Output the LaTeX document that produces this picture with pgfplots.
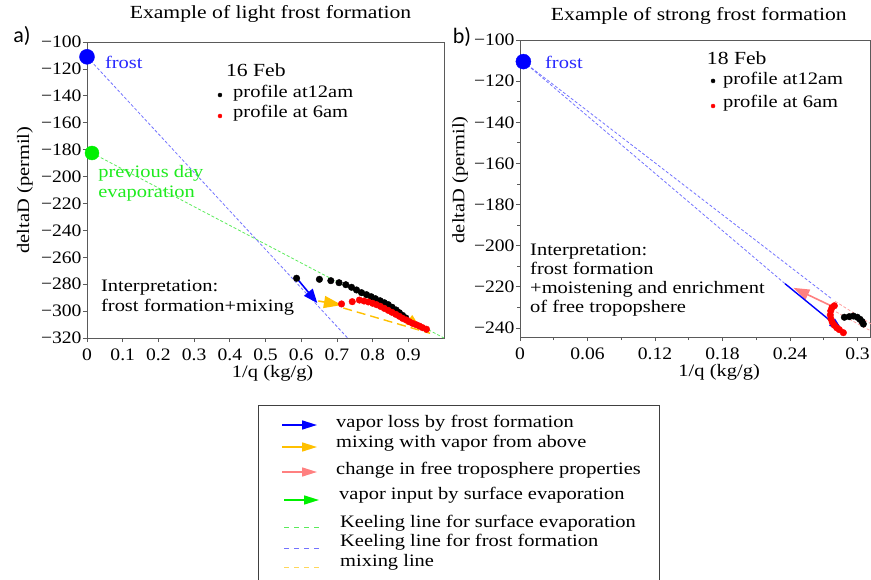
\documentclass[border=0pt]{standalone}
\usepackage{fontspec}
\setmainfont{Liberation Serif}[FakeStretch=1.17]
\newfontfamily\carlito{Carlito}
\newfontfamily\tickfont{Liberation Serif}[FakeStretch=1.12]
\usepackage{pgfplots}
\pgfplotsset{compat=1.18}
\usetikzlibrary{arrows.meta}
\newcommand{\tl}[1]{\mbox{\tickfont #1}}
\definecolor{frostblue}{RGB}{0,0,255}
\definecolor{txtblue}{RGB}{40,40,255}
\definecolor{dashblue}{RGB}{115,115,255}
\definecolor{evgreen}{RGB}{0,240,0}
\definecolor{txtgreen}{RGB}{30,235,30}
\definecolor{dashgreen}{RGB}{90,235,90}
\definecolor{mixyellow}{RGB}{255,192,0}
\definecolor{legyellow}{RGB}{255,215,90}
\definecolor{pinkar}{RGB}{255,128,128}
\definecolor{pinkdash}{RGB}{255,160,160}
\definecolor{axgray}{RGB}{90,90,90}
\pgfplotsset{
  myaxis/.style={
    scale only axis, anchor=south west,
    axis line style={axgray, line width=0.9pt},
    tick style={axgray, line width=0.8pt},
    tick align=outside, major tick length=4pt, minor tick length=3pt,
    xtick pos=bottom, ytick pos=left,
    tick label style={font=\rmfamily\fontsize{17.5}{20}\selectfont},
    xticklabel style={yshift=-3pt},
    yticklabel style={xshift=2pt},
    label style={font=\rmfamily\fontsize{17.5}{20}\selectfont},
    clip=false,
  }
}
\begin{document}
\begin{tikzpicture}[font=\rmfamily\fontsize{17.5}{20}\selectfont]
\useasboundingbox (0,0) rectangle (871pt,-580pt);

% ---------------- panel a ----------------
\begin{axis}[myaxis, at={(87pt,-338pt)}, width=357pt, height=296pt,
  xmin=0, xmax=1, ymin=-320, ymax=-100,
  xtick={0,0.1,0.2,0.3,0.4,0.5,0.6,0.7,0.8,0.9},
  xticklabels={\tl{0},\tl{0.1},\tl{0.2},\tl{0.3},\tl{0.4},\tl{0.5},\tl{0.6},\tl{0.7},\tl{0.8},\tl{0.9}},
  ytick={-320,-300,-280,-260,-240,-220,-200,-180,-160,-140,-120,-100},
  yticklabels={\tl{−320},\tl{−300},\tl{−280},\tl{−260},\tl{−240},\tl{−220},\tl{−200},\tl{−180},\tl{−160},\tl{−140},\tl{−120},\tl{−100}},
  xlabel={1/q (kg/g)}, ylabel={deltaD (permil)},
  xlabel style={at={(axis description cs:0.52,-0.118)}, anchor=center},
  ylabel style={at={(axis description cs:-0.174,0.5)}, anchor=center, rotate=0},
  title={Example of light frost formation},
  title style={at={(axis description cs:0.514,1.074)}, anchor=center, font=\rmfamily\fontsize{18.5}{22}\selectfont},
]
% Keeling lines and mixing line
\addplot[dashgreen, densely dashed, line width=0.8pt] coordinates {(0.014,-182.5) (1.0,-320)};
\addplot[dashblue, densely dashed, line width=0.8pt] coordinates {(0,-111) (0.73,-320)};
\addplot[mixyellow, dash pattern=on 9pt off 5pt, line width=1.4pt] coordinates {(0.718,-297.7) (0.961,-316.5)};
% profiles
\addplot[only marks, mark=*, mark size=3.3pt, black] coordinates {
(0.587,-275.6) (0.651,-276.4) (0.683,-277.4) (0.706,-278.9) (0.725,-280.4)
(0.741,-282.3) (0.755,-284.3) (0.769,-286.3) (0.783,-287.8) (0.796,-289.3)
(0.808,-290.8) (0.821,-292.3) (0.833,-293.8) (0.844,-295.2) (0.855,-297.2)
(0.866,-299.2) (0.875,-301.2) (0.884,-303.2) (0.893,-305.1)};
\addplot[only marks, mark=*, mark size=3.3pt, red] coordinates {
(0.713,-294.7) (0.743,-293.0) (0.763,-291.8) (0.776,-292.5) (0.788,-293.2)
(0.800,-294.2) (0.811,-295.2) (0.822,-296.5) (0.833,-298.0) (0.844,-299.5)
(0.854,-300.9) (0.865,-302.4) (0.875,-303.9) (0.884,-305.4) (0.894,-306.6)
(0.903,-307.9) (0.912,-309.1) (0.922,-310.1) (0.931,-311.1) (0.940,-312.3)
(0.951,-313.5)};
% arrows
\addplot[frostblue, line width=1.6pt, -{Triangle[length=14pt,width=11pt]}] coordinates {(0.592,-277) (0.645,-294)};
\addplot[mixyellow, line width=1.6pt, -{Triangle[length=18pt,width=12pt]}] coordinates {(0.648,-292.5) (0.714,-295.5)};
\addplot[mixyellow, line width=1.6pt, -{Triangle[length=15pt,width=11pt]}] coordinates {(0.885,-303) (0.935,-313)};
% end members
\addplot[only marks, mark=*, mark size=7.5pt, frostblue] coordinates {(0,-111)};
\addplot[only marks, mark=*, mark size=7pt, evgreen] coordinates {(0.014,-182.5)};
% legend dots
\addplot[only marks, mark=*, mark size=2pt, black] coordinates {(0.3725,-139.4)};
\addplot[only marks, mark=*, mark size=2pt, red] coordinates {(0.3725,-155)};
\node[txtblue, anchor=west, inner sep=0pt] at (axis cs:0.05,-114.9) {frost};
\node[anchor=west, inner sep=0pt, font=\rmfamily\fontsize{18.5}{22}\selectfont] at (axis cs:0.389,-120.8) {16 Feb};
\node[anchor=west, inner sep=0pt] at (axis cs:0.409,-137.9) {profile at12am};
\node[anchor=west, inner sep=0pt] at (axis cs:0.409,-152.8) {profile at 6am};
\node[txtgreen, anchor=west, inner sep=0pt, align=left] at (axis cs:0.031,-204.8) {previous day\\evaporation};
\node[anchor=west, inner sep=0pt, align=left] at (axis cs:0.039,-290.3) {Interpretation:\\frost formation+mixing};
\end{axis}

% ---------------- panel b ----------------
\begin{axis}[myaxis, at={(520pt,-337pt)}, width=350pt, height=297pt,
  xmin=0, xmax=0.3111, ymin=-244.4, ymax=-100,
  xtick={0,0.06,0.12,0.18,0.24,0.3},
  xticklabels={\tl{0},\tl{0.06},\tl{0.12},\tl{0.18},\tl{0.24},\tl{0.3}},
  minor xtick={0.03,0.09,0.15,0.21,0.27},
  ytick={-240,-220,-200,-180,-160,-140,-120,-100},
  yticklabels={\tl{−240},\tl{−220},\tl{−200},\tl{−180},\tl{−160},\tl{−140},\tl{−120},\tl{−100}},
  minor ytick={-230,-210,-190,-170,-150,-130,-110},
  xlabel={1/q (kg/g)}, ylabel={deltaD (permil)},
  xlabel style={at={(axis description cs:0.569,-0.12)}, anchor=center},
  ylabel style={at={(axis description cs:-0.171,0.529)}, anchor=center, rotate=0},
  title={Example of strong frost formation},
  title style={at={(axis description cs:0.511,1.061)}, anchor=center, font=\rmfamily\fontsize{18.5}{22}\selectfont},
]
\addplot[dashblue, densely dashed, line width=0.8pt] coordinates {(0.003,-110.5) (0.2775,-226)};
\addplot[dashblue, densely dashed, line width=0.8pt] coordinates {(0.003,-110.5) (0.2356,-218.5)};
\addplot[pinkdash, densely dashed, line width=0.8pt] coordinates {(0.2800,-227) (0.312,-238)};
\addplot[pinkdash, densely dashed, line width=0.8pt] coordinates {(0.2770,-231) (0.312,-241.5)};
\addplot[pinkar, line width=1.6pt, -{Triangle[length=16pt,width=11pt]}] coordinates {(0.2775,-229.5) (0.243,-220.5)};
\addplot[frostblue, line width=1.4pt, -{Triangle[length=14pt,width=9pt]}] coordinates {(0.2356,-218.5) (0.287,-241.5)};
\addplot[only marks, mark=*, mark size=3.3pt, red] coordinates {
(0.2794,-229.2) (0.2773,-230.1) (0.2762,-231.7) (0.2758,-233.7) (0.2764,-235.6)
(0.2776,-237.3) (0.2794,-238.7) (0.2815,-239.9) (0.2838,-240.8) (0.2874,-242.3)};
\addplot[only marks, mark=*, mark size=3.3pt, black] coordinates {
(0.2883,-234.8) (0.2927,-234.5) (0.2963,-234.2) (0.2998,-234.8) (0.3022,-235.8)
(0.3040,-236.9) (0.3052,-238.1)};
\addplot[only marks, mark=*, mark size=7.5pt, frostblue] coordinates {(0.003,-110.5)};
\addplot[only marks, mark=*, mark size=2pt, black] coordinates {(0.1716,-119.9)};
\addplot[only marks, mark=*, mark size=2pt, red] coordinates {(0.1716,-132.1)};
\node[txtblue, anchor=west, inner sep=0pt] at (axis cs:0.0222,-110.7) {frost};
\node[anchor=west, inner sep=0pt, font=\rmfamily\fontsize{18.5}{22}\selectfont] at (axis cs:0.166,-108.8) {18 Feb};
\node[anchor=west, inner sep=0pt] at (axis cs:0.1804,-119.4) {profile at12am};
\node[anchor=west, inner sep=0pt] at (axis cs:0.1804,-130.6) {profile at 6am};
\node[anchor=west, inner sep=0pt, align=left, font=\rmfamily\fontsize{17.5}{19}\selectfont] at (axis cs:0.0089,-216.9) {Interpretation:\\ frost formation\\+moistening and enrichment\\of free tropopshere};
\end{axis}

% panel letters
\node[font=\carlito\fontsize{22}{24}\selectfont, anchor=center] at (22pt,-36pt) {a)};
\node[font=\carlito\fontsize{22}{24}\selectfont, anchor=center] at (462pt,-37pt) {b)};

% legend box
\draw[black!75, line width=0.9pt] (258pt,-405pt) rectangle (659pt,-590pt);
\draw[frostblue, line width=1.6pt, -{Triangle[length=15pt,width=9pt]}] (282pt,-425pt) -- (317pt,-425pt);
\draw[mixyellow, line width=1.6pt, -{Triangle[length=15pt,width=9pt]}] (282pt,-447pt) -- (317pt,-447pt);
\draw[pinkar, line width=1.6pt, -{Triangle[length=15pt,width=9pt]}] (282pt,-472pt) -- (317pt,-472pt);
\draw[evgreen, line width=1.6pt, -{Triangle[length=15pt,width=9pt]}] (284pt,-500pt) -- (319pt,-500pt);
\draw[dashgreen, dash pattern=on 5pt off 5pt, line width=1pt] (284pt,-527pt) -- (320pt,-527pt);
\draw[dashblue, dash pattern=on 5pt off 5pt, line width=1pt] (284pt,-548pt) -- (320pt,-548pt);
\draw[legyellow, dash pattern=on 5pt off 5pt, line width=1pt] (284pt,-567pt) -- (320pt,-567pt);
\node[anchor=west, inner sep=0pt] at (336pt,-423pt) {vapor loss by frost formation};
\node[anchor=west, inner sep=0pt] at (336pt,-443pt) {mixing with vapor from above};
\node[anchor=west, inner sep=0pt] at (336pt,-470pt) {change in free troposphere properties};
\node[anchor=west, inner sep=0pt] at (339pt,-495pt) {vapor input by surface evaporation};
\node[anchor=west, inner sep=0pt] at (340pt,-523pt) {Keeling line for surface evaporation};
\node[anchor=west, inner sep=0pt] at (340pt,-542pt) {Keeling line for frost formation};
\node[anchor=west, inner sep=0pt] at (340pt,-562pt) {mixing line};
\end{tikzpicture}
\end{document}
